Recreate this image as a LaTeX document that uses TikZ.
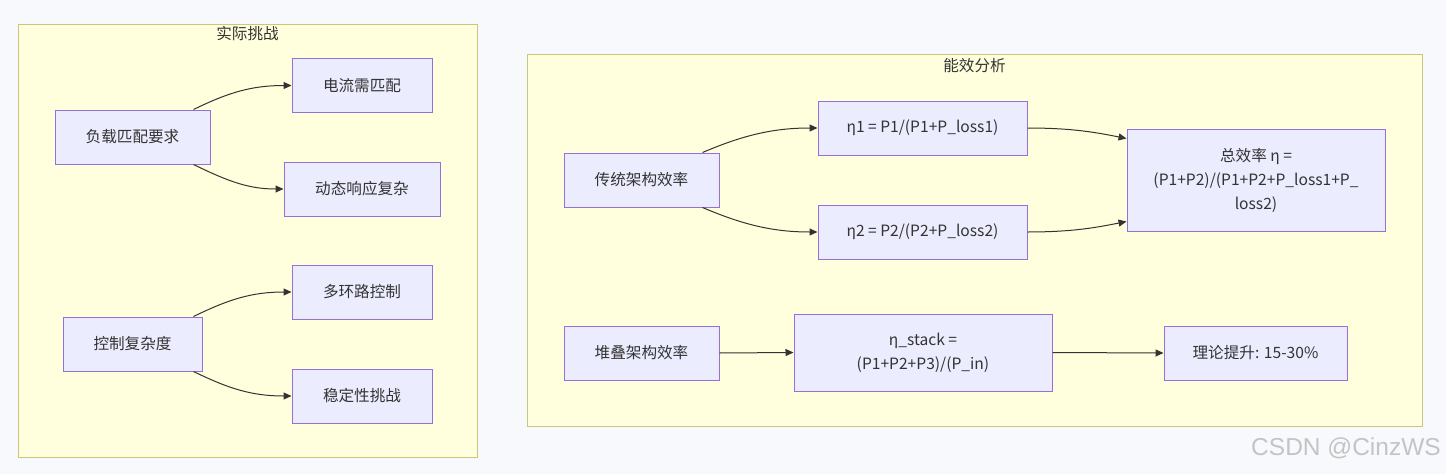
\documentclass[tikz,border=0pt]{standalone}
\usepackage{fontspec}
\setmainfont{Noto Sans CJK SC}
\newfontfamily\wmfont{Liberation Sans}
\usetikzlibrary{arrows.meta,calc}
\definecolor{bgc}{HTML}{F8F9FC}
\definecolor{clfill}{HTML}{FFFFDE}
\definecolor{cldraw}{HTML}{C8C87A}
\definecolor{ndfill}{HTML}{ECECFF}
\definecolor{nddraw}{HTML}{9370DB}
\definecolor{txt}{HTML}{333333}
\definecolor{wm}{HTML}{C4C4C4}
\tikzset{
  cluster/.style={draw=cldraw, fill=clfill, line width=1pt},
  box/.style={draw=nddraw, fill=ndfill, line width=1pt, inner sep=0pt, text=txt,
    font=\fontsize{15.6}{24}\selectfont, align=center},
  ttl/.style={text=txt, font=\fontsize{15.6}{18}\selectfont, inner sep=0pt},
  conn/.style={draw=txt, line width=1pt, -{Triangle[length=8pt,width=7pt]}},
}
\begin{document}
\begin{tikzpicture}[x=1pt,y=-1pt]
\useasboundingbox (0,0) rectangle (1446,474);
\fill[bgc] (0,0) rectangle (1446,474);
% clusters
\draw[cluster] (18,24) rectangle (477,457);
\node[ttl] (t1) at (247.5,34) {实际挑战};
\draw[cluster] (527,54) rectangle (1422,426);
\node[ttl] (t2) at (974.5,66) {能效分析};
% left cluster nodes
\node[box, minimum width=155pt, minimum height=54pt] (fz) at (132.5,137) {负载匹配要求};
\node[box, minimum width=140pt, minimum height=54pt] (dl) at (362,85.5) {电流需匹配};
\node[box, minimum width=156pt, minimum height=54pt] (dt) at (362,189) {动态响应复杂};
\node[box, minimum width=140pt, minimum height=54pt] (dh) at (362,292) {多环路控制};
\node[box, minimum width=139pt, minimum height=54pt] (kz) at (132.5,344) {控制复杂度};
\node[box, minimum width=140pt, minimum height=54pt] (wd) at (362,396) {稳定性挑战};
% right cluster nodes
\node[box, minimum width=155pt, minimum height=54pt] (ct) at (641.5,180) {传统架构效率};
\node[box, minimum width=209pt, minimum height=54pt] (e1) at (922.5,128) {η1 = P1/(P1+P\_loss1)};
\node[box, minimum width=209pt, minimum height=54pt] (e2) at (922.5,232) {η2 = P2/(P2+P\_loss2)};
\node[box, minimum width=258pt, minimum height=102pt] (zx) at (1256,180) {总效率 η =\\(P1+P2)/(P1+P2+P\_loss1+P\_\\loss2)};
\node[box, minimum width=155pt, minimum height=54pt] (dd) at (641.5,353) {堆叠架构效率};
\node[box, minimum width=258pt, minimum height=77pt] (es) at (923,352.5) {η\_stack =\\(P1+P2+P3)/(P\_in)};
\node[box, minimum width=183pt, minimum height=54pt] (ll) at (1255.5,353) {理论提升: 15-30\%};
% connectors
\draw[conn] ($(fz.north east)+(-17,0)$) .. controls +(35,-17) and +(-40,0) .. (dl.west);
\draw[conn] ($(fz.south east)+(-17,0)$) .. controls +(35,17) and +(-35,0) .. (dt.west);
\draw[conn] ($(kz.north east)+(-9,0)$) .. controls +(35,-17) and +(-40,0) .. (dh.west);
\draw[conn] ($(kz.south east)+(-9,0)$) .. controls +(35,17) and +(-40,0) .. (wd.west);
\draw[conn] ($(ct.north east)+(-17,0)$) .. controls +(40,-17) and +(-45,0) .. (e1.west);
\draw[conn] ($(ct.south east)+(-17,0)$) .. controls +(40,17) and +(-45,0) .. (e2.west);
\draw[conn] (e1.east) .. controls +(45,0) and +(-30,-6) .. ($(zx.north west)+(0,10)$);
\draw[conn] (e2.east) .. controls +(45,0) and +(-30,6) .. ($(zx.south west)+(0,-10)$);
\draw[conn] (dd.east) -- (es.west);
\draw[conn] (es.east) -- (ll.west);
% watermark
\node[text=wm, font=\wmfont\fontsize{24.5}{28}\selectfont, anchor=east, inner sep=0pt] (wmk) at (1441,448) {CSDN @CinzWS};
\end{tikzpicture}
\end{document}
